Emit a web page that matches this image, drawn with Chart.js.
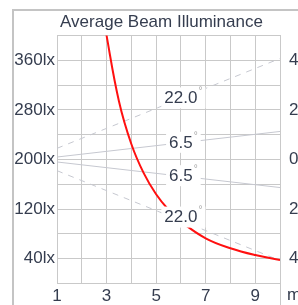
<!DOCTYPE html>
<html>
<head>
<meta charset="utf-8">
<script src="https://cdn.jsdelivr.net/npm/chart.js@4"></script>
<style>
  html, body { margin: 0; padding: 0; overflow: hidden; background: #fff; }
  #frame { position: absolute; left: 12px; top: 9px; width: 295px; height: 310px; border: 2px solid #c4c4c4; }
</style>
</head>
<body>
<div id="frame"><canvas id="beamChart" width="295" height="310"></canvas></div>
<script>
// distance (m) vs average illuminance (lx)
const distances = [2.9, 3, 3.5, 4, 4.5, 5, 5.5, 6, 7, 8, 9, 10];
const illuminance = [428, 400, 294, 225, 178, 144, 119, 100, 73, 57, 46, 38];

// beam edges (m, right axis) at distance 1 and 10
const beamDistances = [1, 10];
const beam22Upper = [0.45, 4.07];
const beam22Lower = [-0.45, -4.07];
const beam65Upper = [0.1, 1.13];
const beam65Lower = [-0.1, -1.13];
const beamLabels = ['22.0', '6.5', '6.5', '22.0'];

const textColor = '#353d4f';
const gridColor = '#c9c9c9';
const font = "'Liberation Sans', Arial, sans-serif";

function points(xs, ys) {
    return xs.map((x, i) => ({ x: x, y: ys[i] }));
}

function beamSet(values, dashed) {
    return {
        data: points(beamDistances, values),
        yAxisID: 'y2',
        borderColor: '#c6c8d0',
        borderWidth: 1,
        borderDash: dashed ? [6, 6] : [],
        pointRadius: 0,
        fill: false
    };
}

// labels of the beam angles, sitting on the lines at 6 m
const labelShift = [-1, -1, -1, -4];
const beamLabelPlugin = {
    id: 'beamLabels',
    afterDatasetsDraw(chart) {
        const ctx = chart.ctx;
        const xs = chart.scales.x;
        const ys = chart.scales.y2;
        const at = 6;
        ctx.save();
        for (let i = 1; i <= 4; i++) {
            const d = chart.data.datasets[i].data;
            const t = (at - d[0].x) / (d[1].x - d[0].x);
            const v = d[0].y + t * (d[1].y - d[0].y);
            const cx = xs.getPixelForValue(at);
            const cy = ys.getPixelForValue(v) + labelShift[i - 1];
            const text = beamLabels[i - 1];
            ctx.font = '17px ' + font;
            const w = ctx.measureText(text).width;
            ctx.fillStyle = '#fff';
            ctx.fillRect(cx - w / 2 - 3, cy - 10, w + 11, 21);
            ctx.fillStyle = textColor;
            ctx.textAlign = 'center';
            ctx.textBaseline = 'middle';
            ctx.fillText(text, cx, cy + 1);
            ctx.font = '10px ' + font;
            ctx.fillStyle = '#a8a8a8';
            ctx.textAlign = 'left';
            ctx.fillText('°', cx + w / 2 + 1, cy - 6);
        }
        ctx.restore();
    },
    afterDraw(chart) {
        const ctx = chart.ctx;
        const x10 = chart.scales.x.getPixelForValue(10);
        ctx.save();
        ctx.strokeStyle = gridColor;
        ctx.lineWidth = 1;
        ctx.beginPath();
        ctx.moveTo(Math.round(x10) + 0.5, chart.chartArea.bottom);
        ctx.lineTo(Math.round(x10) + 0.5, chart.height);
        ctx.stroke();
        ctx.font = '17px ' + font;
        ctx.fillStyle = textColor;
        ctx.textBaseline = 'middle';
        ctx.fillText('m', x10 + 7, chart.chartArea.bottom + 12);
        ctx.restore();
    }
};

new Chart(document.getElementById('beamChart').getContext('2d'), {
    type: 'line',
    data: {
        datasets: [
            {
                data: points(distances, illuminance),
                yAxisID: 'y',
                borderColor: '#ff1010',
                borderWidth: 2,
                pointRadius: 0,
                tension: 0.4,
                fill: false
            },
            beamSet(beam22Upper, true),
            beamSet(beam65Upper, false),
            beamSet(beam65Lower, false),
            beamSet(beam22Lower, true)
        ]
    },
    options: {
        responsive: false,
        animation: false,
        layout: { padding: { bottom: 11 } },
        plugins: {
            legend: { display: false },
            tooltip: { enabled: false },
            title: {
                display: true,
                text: 'Average Beam Illuminance',
                color: textColor,
                font: { family: font, size: 17, weight: 'normal' },
                padding: { top: 1, bottom: 3 }
            }
        },
        scales: {
            x: {
                type: 'linear',
                min: 1,
                max: 10,
                grid: { color: gridColor, drawTicks: false },
                border: { color: gridColor },
                ticks: {
                    stepSize: 1,
                    padding: 3,
                    color: textColor,
                    font: { family: font, size: 17 },
                    maxRotation: 0,
                    callback: v => (v % 2 === 1 ? v : '')
                }
            },
            y: {
                position: 'left',
                min: 0,
                max: 400,
                afterFit: s => { s.width = 43; },
                grid: { color: gridColor, drawTicks: false },
                border: { color: gridColor },
                ticks: {
                    stepSize: 40,
                    padding: 2,
                    color: textColor,
                    font: { family: font, size: 17 },
                    callback: v => (v % 80 === 40 ? v + 'lx' : '')
                }
            },
            y2: {
                position: 'right',
                min: -5,
                max: 5,
                afterFit: s => { s.width = 29; },
                afterBuildTicks: s => { s.ticks = [-4, -2, 0, 2, 4].map(v => ({ value: v })); },
                grid: { drawOnChartArea: false, drawTicks: false },
                border: { color: gridColor },
                ticks: {
                    padding: 9,
                    color: textColor,
                    font: { family: font, size: 17 },
                    callback: v => Math.abs(v) + 'm'
                }
            }
        }
    },
    plugins: [beamLabelPlugin]
});
</script>
</body>
</html>
